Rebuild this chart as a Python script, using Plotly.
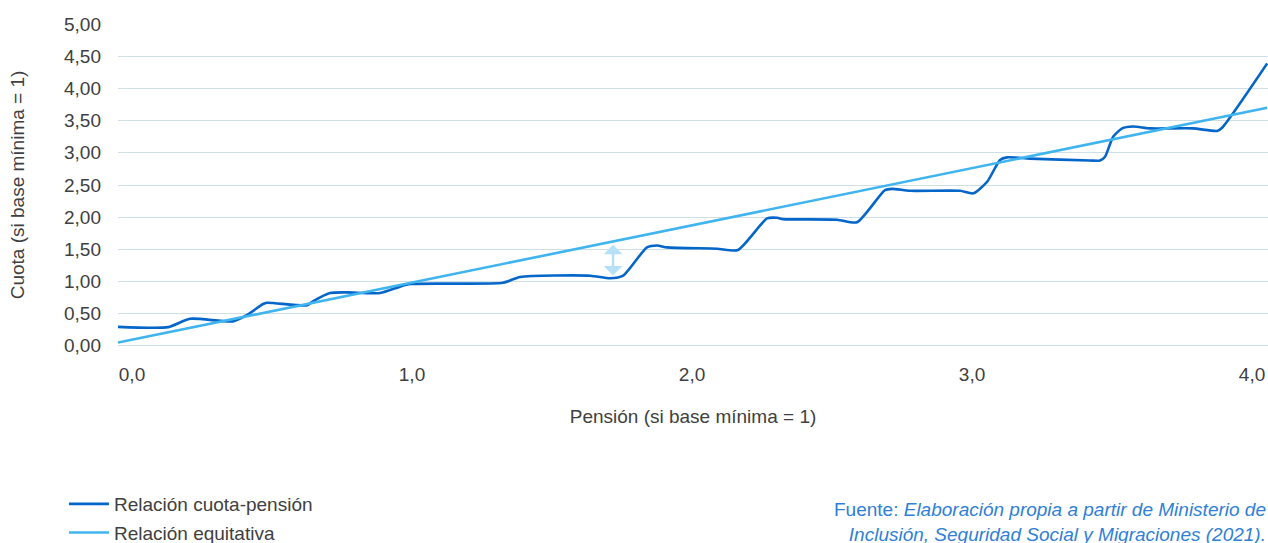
import plotly.graph_objects as go

# Relación cuota-pensión
pension = [-0.05, 0.129, 0.207, 0.361, 0.411, 0.468, 0.482, 0.625, 0.646, 0.707, 0.768, 0.886,
           0.957, 0.993, 1.325, 1.386, 1.636, 1.707, 1.754, 1.839, 1.875, 1.911, 2.089, 2.164,
           2.268, 2.304, 2.325, 2.518, 2.589, 2.689, 2.714, 2.779, 2.957, 3.004, 3.054, 3.100,
           3.125, 3.207, 3.421, 3.457, 3.475, 3.504, 3.536, 3.575, 3.636, 3.789, 3.875, 3.893, 4.054]
cuota = [0.295, 0.29, 0.42, 0.38, 0.48, 0.65, 0.67, 0.63, 0.69, 0.82, 0.83, 0.82,
         0.92, 0.96, 0.98, 1.07, 1.09, 1.05, 1.09, 1.53, 1.56, 1.53, 1.51, 1.49,
         1.98, 1.99, 1.97, 1.96, 1.92, 2.42, 2.44, 2.41, 2.41, 2.37, 2.55, 2.89,
         2.93, 2.91, 2.88, 2.88, 2.94, 3.25, 3.38, 3.41, 3.38, 3.38, 3.34, 3.39, 4.39]

# Relación equitativa
eq_x = [-0.05, 4.054]
eq_y = [0.05, 3.70]

# Gap arrow
gap_x = 1.718
gap_top = 1.57
gap_bottom = 1.07

y_ticks = [0, 0.5, 1, 1.5, 2, 2.5, 3, 3.5, 4, 4.5, 5]
x_ticks = [0, 1, 2, 3, 4]

FONT = "Liberation Sans"
TXT = "#404040"
FS = 19

fig = go.Figure()
fig.add_trace(go.Scatter(x=pension, y=cuota, mode="lines", name="Relación cuota-pensión",
                         legendgroup="a",
                         line=dict(color="#0566c9", width=2.6, shape="spline", smoothing=0.6)))
fig.add_trace(go.Scatter(x=eq_x, y=eq_y, mode="lines", name="Relación equitativa",
                         legendgroup="b",
                         line=dict(color="#3fb4ee", width=2.6)))

fig.add_annotation(x=gap_x, y=gap_top, ax=gap_x, ay=gap_bottom, xref="x", yref="y",
                   axref="x", ayref="y", text="", showarrow=True, arrowside="end+start",
                   arrowhead=1, arrowsize=1.25, arrowwidth=2.5, arrowcolor="#b5e0f8")

fig.add_annotation(xref="paper", yref="paper", x=1.0, y=-0.468, xanchor="right", yanchor="top",
                   align="right", showarrow=False,
                   text="Fuente: <i>Elaboración propia a partir de Ministerio de</i><br><i>Inclusión, Seguridad Social y Migraciones (2021).</i>",
                   font=dict(family=FONT, size=FS, color="#2f80d6"))

fig.update_layout(
    width=1268, height=543,
    margin=dict(l=118, r=0, t=24, b=197),
    paper_bgcolor="white", plot_bgcolor="white",
    separators=",.",
    font=dict(family=FONT, size=FS, color=TXT),
    showlegend=True,
    legend=dict(x=-0.047, y=1 - 485 / 543, xref="paper", yref="container",
                xanchor="left", yanchor="top", orientation="v",
                font=dict(family=FONT, size=FS, color=TXT), tracegroupgap=1,
                traceorder="grouped", itemwidth=40, bgcolor="rgba(0,0,0,0)"),
    xaxis=dict(range=[-0.05, 4.057], tickvals=x_ticks, tickformat=".1f", showgrid=False,
               zeroline=False, showline=False, ticks="", ticklabelstandoff=15,
               automargin=False,
               title=dict(text="Pensión (si base mínima = 1)", standoff=25,
                          font=dict(family=FONT, size=FS, color=TXT))),
    yaxis=dict(range=[-0.003, 5.003], tickvals=y_ticks, tickformat=".2f", showgrid=True,
               gridcolor="#cfdfe6", gridwidth=1.3, zeroline=True, zerolinecolor="#cfdfe6",
               zerolinewidth=1.3, showline=False, ticks="", ticklabelstandoff=16,
               automargin=False,
               title=dict(text="Cuota (si base mínima = 1)", standoff=34,
                          font=dict(family=FONT, size=FS, color=TXT))),
)

fig.write_html("out.html", config={"displayModeBar": False},
               post_script="document.body.style.margin='0';")
